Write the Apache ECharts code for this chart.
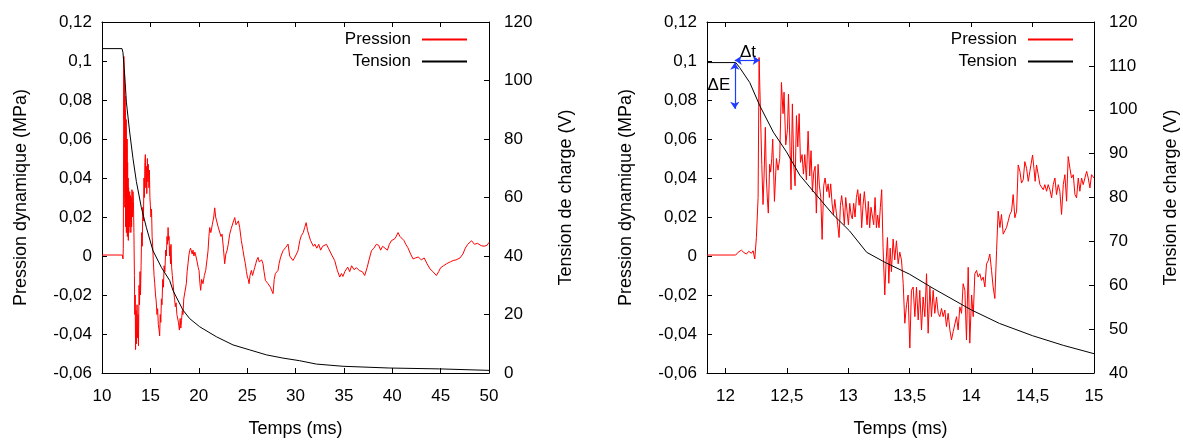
<!DOCTYPE html>
<html><head><meta charset="utf-8">
<script src="https://cdn.jsdelivr.net/npm/echarts@6/dist/echarts.min.js"></script>
<style>html,body{margin:0;padding:0;background:#fff;}#c{width:1183px;height:443px;}</style>
</head><body><div id="c"></div>
<script>
// ---------- DATA ----------
const seriesNames = ['Pression', 'Tension'];
const xTitle = 'Temps (ms)';
const yLeftTitle = 'Pression dynamique (MPa)';
const yRightTitle = 'Tension de charge (V)';

// Left panel : time (ms) vs pressure (MPa)
const pressionGauche = [
[10,0.0005],[12.1,0.0005],[12.17,-0.0015],[12.2,0.004],[12.26,0.1023],[12.28,0.07],[12.3,0.095],[12.32,0.04],[12.34,0.088],[12.36,0.025],[12.38,0.082],[12.4,0.03],[12.42,0.075],[12.44,0.015],[12.46,0.065],[12.48,0.028],[12.5,0.07],[12.52,0.012],[12.55,0.055],[12.57,0.02],[12.6,0.06],[12.62,0.01],[12.65,0.048],[12.67,0.018],[12.7,0.04],[12.72,0.008],[12.75,0.035],[12.78,0.012],[12.8,0.03],[12.83,0.015],[12.86,0.033],[12.9,0.018],[12.94,0.031],[12.98,0.012],[13.02,0.03],[13.06,0.015],[13.1,0.034],[13.15,0.02],[13.2,0.033],[13.25,0.028],[13.3,0.012],[13.35,-0.01],[13.39,-0.03],[13.43,-0.02],[13.47,-0.048],[13.52,-0.028],[13.57,-0.045],[13.62,-0.025],[13.67,-0.042],[13.72,-0.03],[13.77,-0.046],[13.83,-0.015],[13.88,-0.025],[13.93,-0.008],[13.98,-0.02],[14.04,-0.005],[14.1,0.012],[14.16,0.005],[14.22,0.025],[14.28,0.018],[14.34,0.04],[14.38,0.03],[14.43,0.048],[14.48,0.052],[14.53,0.035],[14.58,0.046],[14.63,0.032],[14.69,0.05],[14.74,0.038],[14.79,0.047],[14.85,0.035],[14.9,0.044],[14.95,0.03],[15.0,0.026],[15.06,0.02],[15.12,0.024],[15.18,0.01],[15.24,0.005],[15.3,-0.002],[15.38,-0.01],[15.45,-0.014],[15.53,-0.02],[15.6,-0.023],[15.68,-0.03],[15.75,-0.027],[15.82,-0.035],[15.9,-0.038],[15.96,-0.041],[16.02,-0.03],[16.08,-0.034],[16.14,-0.022],[16.2,-0.025],[16.28,-0.012],[16.35,-0.016],[16.42,-0.005],[16.5,-0.008],[16.58,0.003],[16.65,0.0],[16.72,0.01],[16.78,0.006],[16.83,0.0146],[16.88,0.008],[16.93,0.01],[16.98,0.0],[17.03,0.005],[17.08,-0.004],[17.13,0.006],[17.2,-0.006],[17.27,-0.01],[17.34,-0.014],[17.41,-0.018],[17.5,-0.022],[17.58,-0.026],[17.66,-0.024],[17.74,-0.03],[17.82,-0.029],[17.9,-0.034],[18.0,-0.038],[18.08,-0.032],[18.15,-0.037],[18.22,-0.033],[18.3,-0.028],[18.37,-0.03],[18.45,-0.022],[18.55,-0.019],[18.63,-0.02],[18.72,-0.014],[18.8,-0.008],[18.89,-0.004],[18.97,0.0],[19.06,0.0027],[19.15,0.004],[19.24,0.0044],[19.32,0.001],[19.41,0.003],[19.5,0.0],[19.6,0.002],[19.75,-0.001],[19.85,0.0],[19.95,-0.006],[20.03,-0.0074],[20.12,-0.014],[20.2,-0.0176],[20.3,-0.012],[20.44,-0.0142],[20.58,-0.01],[20.72,-0.0074],[20.85,-0.002],[20.96,0.0027],[21.05,0.01],[21.13,0.0146],[21.25,0.012],[21.41,0.0163],[21.55,0.02],[21.65,0.0247],[21.75,0.02],[21.89,0.0197],[22.0,0.015],[22.17,0.0146],[22.3,0.01],[22.41,0.0112],[22.55,0.004],[22.68,-0.004],[22.8,0.001],[22.92,0.0027],[23.05,0.006],[23.2,0.0112],[23.35,0.014],[23.47,0.0146],[23.6,0.018],[23.72,0.0197],[23.85,0.016],[23.99,0.0163],[24.1,0.018],[24.23,0.0146],[24.4,0.008],[24.58,0.0027],[24.7,-0.001],[24.82,-0.004],[24.93,-0.008],[25.03,-0.0108],[25.12,-0.012],[25.2,-0.0142],[25.3,-0.01],[25.44,-0.0074],[25.56,-0.01],[25.68,-0.0108],[25.78,-0.006],[25.89,-0.004],[26.0,-0.002],[26.13,-0.0007],[26.25,-0.003],[26.37,-0.0035],[26.5,-0.002],[26.64,-0.004],[26.75,-0.008],[26.89,-0.0125],[27.0,-0.013],[27.16,-0.0142],[27.28,-0.015],[27.4,-0.016],[27.55,-0.017],[27.68,-0.0193],[27.8,-0.012],[27.92,-0.009],[28.05,-0.008],[28.19,-0.0074],[28.3,-0.004],[28.44,-0.001],[28.58,0.001],[28.71,0.0027],[28.85,0.003],[28.99,0.0044],[29.1,0.005],[29.23,0.0061],[29.4,0.0],[29.74,-0.0023],[30.0,0.0],[30.26,0.0027],[30.45,0.008],[30.6,0.0104],[30.8,0.012],[30.95,0.0146],[31.1,0.0171],[31.25,0.013],[31.4,0.012],[31.55,0.008],[31.7,0.009],[31.85,0.005],[32.0,0.0061],[32.2,0.004],[32.4,0.006],[32.6,0.003],[32.8,0.005],[33.0,0.006],[33.2,0.006],[33.4,0.004],[33.6,0.003],[33.8,0.0],[34.05,-0.0023],[34.3,-0.007],[34.57,-0.0108],[34.75,-0.009],[34.9,-0.0105],[35.1,-0.008],[35.4,-0.0057],[35.6,-0.008],[35.8,-0.005],[36.05,-0.007],[36.3,-0.006],[36.6,-0.0075],[36.9,-0.008],[37.15,-0.01],[37.4,-0.006],[37.6,-0.002],[37.85,0.0027],[38.1,0.004],[38.36,0.006],[38.6,0.0055],[38.8,0.003],[39.0,0.005],[39.2,0.004],[39.5,0.003],[39.7,0.006],[39.9,0.0078],[40.1,0.007],[40.3,0.009],[40.6,0.012],[40.8,0.01],[41.0,0.0105],[41.2,0.008],[41.4,0.006],[41.6,0.0044],[41.9,0.001],[42.15,-0.0015],[42.4,-0.001],[42.7,-0.0005],[43.0,-0.002],[43.3,-0.001],[43.6,-0.004],[43.9,-0.0066],[44.2,-0.008],[44.56,-0.01],[44.8,-0.008],[45.0,-0.006],[45.3,-0.005],[45.6,-0.004],[46.0,-0.003],[46.3,-0.0023],[46.6,-0.002],[47.0,-0.001],[47.3,0.001],[47.55,0.004],[47.8,0.006],[48.0,0.007],[48.2,0.0078],[48.5,0.006],[48.8,0.0065],[49.2,0.0053],[49.5,0.005],[49.8,0.0055],[50,0.007]
];
// Left panel : time (ms) vs charging voltage (V)
const tensionGauche = [
[10,110.9],[12.07,110.9],[12.17,109.5],[12.35,101.6],[12.52,92.6],[12.86,82.4],[13.2,73.4],[13.55,65.5],[14.07,56.5],[14.59,49.7],[15.27,41.8],[16.14,36.1],[17.0,31.6],[17.34,28.2],[18.37,21.5],[19.06,18.6],[20.1,15.8],[21.82,12.4],[23.54,9.6],[25.27,7.9],[26.99,6.2],[28.7,5.1],[30.43,4.2],[32.16,3.05],[34.9,2.3],[39.7,1.7],[44.9,1.4],[50,0.9]
];
// Right panel (zoom) : time (ms) vs pressure (MPa)
const pressionDroite = [
[11.85,0.0005],[12.084,0.0005],[12.103,0.0019],[12.13,0.003],[12.15,0.0018],[12.171,0.001],[12.19,0.0024],[12.211,0.0014],[12.225,0.0027],[12.239,-0.0015],[12.252,0.0095],[12.266,0.03],[12.274,0.1018],[12.285,0.1018],[12.296,0.047],[12.306,0.0264],[12.314,0.04],[12.325,0.066],[12.333,0.04],[12.341,0.0298],[12.349,0.022],[12.36,0.047],[12.368,0.043],[12.377,0.05],[12.385,0.06],[12.399,0.028],[12.415,0.05],[12.428,0.044],[12.442,0.05],[12.456,0.089],[12.469,0.073],[12.477,0.084],[12.491,0.057],[12.505,0.065],[12.513,0.083],[12.524,0.06],[12.534,0.034],[12.545,0.078],[12.556,0.047],[12.567,0.036],[12.578,0.072],[12.589,0.056],[12.6,0.073],[12.611,0.048],[12.624,0.052],[12.635,0.042],[12.646,0.052],[12.659,0.039],[12.673,0.064],[12.686,0.041],[12.697,0.054],[12.708,0.033],[12.719,0.043],[12.73,0.046],[12.74,0.022],[12.754,0.047],[12.765,0.036],[12.776,0.03],[12.787,0.0085],[12.8,0.036],[12.811,0.04],[12.825,0.033],[12.836,0.037],[12.846,0.03],[12.857,0.037],[12.868,0.027],[12.879,0.021],[12.89,0.029],[12.903,0.022],[12.914,0.016],[12.925,0.0095],[12.936,0.026],[12.946,0.031],[12.957,0.025],[12.968,0.016],[12.979,0.03],[12.99,0.023],[13.001,0.016],[13.012,0.027],[13.023,0.021],[13.033,0.019],[13.044,0.027],[13.055,0.02],[13.066,0.03],[13.077,0.034],[13.088,0.026],[13.098,0.032],[13.109,0.0145],[13.12,0.026],[13.131,0.033],[13.142,0.032],[13.153,0.016],[13.163,0.028],[13.174,0.0145],[13.185,0.025],[13.196,0.026],[13.207,0.016],[13.218,0.03],[13.229,0.0145],[13.239,0.021],[13.25,0.0145],[13.261,0.025],[13.272,0.034],[13.283,0.0045],[13.297,-0.02],[13.308,-0.0025],[13.319,0.0095],[13.33,-0.014],[13.341,0.004],[13.351,-0.008],[13.365,0.0087],[13.378,-0.002],[13.392,0.0078],[13.406,-0.004],[13.419,0.002],[13.433,-0.002],[13.447,-0.014],[13.46,-0.0345],[13.474,-0.025],[13.487,-0.02],[13.501,-0.0472],[13.514,-0.0176],[13.528,-0.0159],[13.542,-0.0311],[13.555,-0.0159],[13.569,-0.0328],[13.582,-0.0176],[13.596,-0.0379],[13.609,-0.021],[13.623,-0.0311],[13.637,-0.0091],[13.65,-0.0396],[13.664,-0.0159],[13.677,-0.0311],[13.691,-0.0176],[13.704,-0.0294],[13.718,-0.021],[13.732,-0.0294],[13.745,-0.0311],[13.759,-0.0269],[13.772,-0.0311],[13.786,-0.0277],[13.799,-0.0362],[13.813,-0.0294],[13.827,-0.0379],[13.84,-0.043],[13.854,-0.0387],[13.867,-0.0396],[13.881,-0.0311],[13.894,-0.0379],[13.908,-0.0261],[13.922,-0.0294],[13.935,-0.0142],[13.949,-0.0176],[13.962,-0.043],[13.976,-0.0058],[13.989,-0.0447],[14.004,-0.02],[14.017,-0.0311],[14.03,-0.0091],[14.044,-0.0074],[14.057,-0.0108],[14.071,-0.0091],[14.084,-0.0125],[14.098,-0.0108],[14.112,-0.0159],[14.125,-0.0041],[14.139,-0.0024],[14.152,0.001],[14.166,-0.0074],[14.179,-0.0159],[14.193,-0.0218],[14.207,0.0027],[14.22,0.023],[14.234,0.0146],[14.247,0.0213],[14.261,0.0112],[14.274,0.0129],[14.288,0.0146],[14.302,0.018],[14.315,0.0213],[14.329,0.023],[14.342,0.0315],[14.356,0.0196],[14.37,0.023],[14.383,0.0467],[14.397,0.0434],[14.41,0.0374],[14.424,0.0391],[14.437,0.0484],[14.451,0.045],[14.465,0.0383],[14.478,0.0434],[14.5,0.0518],[14.511,0.045],[14.521,0.0383],[14.532,0.0467],[14.546,0.0417],[14.56,0.0366],[14.573,0.0357],[14.587,0.034],[14.6,0.0366],[14.614,0.0332],[14.627,0.0366],[14.641,0.034],[14.655,0.0298],[14.668,0.0366],[14.682,0.04],[14.695,0.0315],[14.709,0.0366],[14.722,0.0332],[14.736,0.0213],[14.75,0.0366],[14.763,0.0417],[14.777,0.0281],[14.79,0.051],[14.804,0.045],[14.817,0.04],[14.831,0.0417],[14.845,0.0315],[14.858,0.0298],[14.872,0.04],[14.885,0.0332],[14.899,0.04],[14.912,0.0366],[14.926,0.0366],[14.94,0.0434],[14.953,0.04],[14.967,0.0349],[14.98,0.0417],[15.0,0.04]
];
// Right panel (zoom) : time (ms) vs charging voltage (V)
const tensionDroite = [
[11.85,110.75],[12.084,110.75],[12.116,109.6],[12.198,106.2],[12.28,100.9],[12.39,94.9],[12.497,90.4],[12.605,85.1],[12.74,80.6],[12.876,76.1],[13.01,72.4],[13.15,67.5],[13.3,65.2],[13.5,62.5],[13.69,59.3],[14.0,54.4],[14.23,51.3],[14.5,48.5],[14.75,46.3],[15.0,44.4]
];
// Annotations (time ms, voltage V)
const deltaTArrow = [[12.076,111.26],[12.279,111.26]];
const deltaEArrow = [[12.076,110.74],[12.076,100.2]];
const annotationLabels = [['\u0394t',12.184,113.18],['\u0394E',11.947,105.67]];

// Axis ranges
const leftX = {min:10, max:50, interval:5};
const rightX = {min:11.85, max:15, splitNumber:6};
const pressionAxis = {min:-0.06, max:0.12, interval:0.02};
const tensionAxisLeft = {min:0, max:120, interval:20};
const tensionAxisRight = {min:40, max:120, interval:10};

// ---------- CHART ----------
const FONT = "'Liberation Sans', Arial, sans-serif";
const fr = v => { const r = Math.round(v*10000)/10000; return (r === 0 ? 0 : r).toString().replace('.', ','); };
const halfFmt = v => Math.abs(v*2 - Math.round(v*2)) < 1e-6 ? fr(v) : '';
const lab = {fontSize:17, color:'#000', fontFamily:FONT};
const nameStyle = {fontSize:18, color:'#000', fontFamily:FONT};
const line = {show:true, onZero:false, lineStyle:{color:'#000', width:1}};
const tick = {show:true, inside:true, length:5, lineStyle:{color:'#000', width:1}};

function xAx(grid, r, top, fmt) {
  const a = Object.assign({type:'value', gridIndex:grid, position: top ? 'top' : 'bottom',
    axisLine:line, axisTick:tick, splitLine:{show:false}}, r);
  if (top) { a.axisLabel = {show:false}; }
  else {
    a.axisLabel = Object.assign({margin:15, formatter:fmt, showMinLabel: fmt === halfFmt ? false : true}, lab);
    a.name = xTitle; a.nameLocation = 'middle'; a.nameGap = 47; a.nameTextStyle = nameStyle;
  }
  return a;
}
function yAx(grid, r, right, name, gap) {
  return Object.assign({type:'value', gridIndex:grid, position: right ? 'right' : 'left',
    axisLine:line, axisTick:tick, splitLine:{show:false},
    axisLabel:Object.assign({margin: right ? 15 : 10, formatter:fr, padding: right ? [3,0,0,0] : [4,0,0,0]}, lab),
    name:name, nameLocation:'middle', nameRotate:90, nameGap:gap, nameTextStyle:nameStyle}, r);
}
const legendBase = {data:seriesNames, orient:'vertical', align:'right', top:31, itemWidth:45, itemHeight:14,
  itemGap:5, padding:0, selectedMode:false,
  itemStyle:{opacity:0},
  textStyle:{fontSize:17, color:'#000', fontFamily:FONT, padding:[0,6,0,0]}};

const option = {
  animation:false,
  backgroundColor:'#fff',
  grid:[{left:102, top:22, width:387, height:355}, {left:707, top:22, width:387, height:355}],
  legend:[Object.assign({right:715}, legendBase), Object.assign({right:109}, legendBase)],
  xAxis:[xAx(0, leftX, false, fr), xAx(0, leftX, true), xAx(1, rightX, false, halfFmt), xAx(1, rightX, true)],
  yAxis:[yAx(0, pressionAxis, false, yLeftTitle, 72), yAx(0, tensionAxisLeft, true, yRightTitle, 68),
         yAx(1, pressionAxis, false, yLeftTitle, 72), yAx(1, tensionAxisRight, true, yRightTitle, 68)],
  series:[
    {name:'Pression', type:'line', xAxisIndex:0, yAxisIndex:0, data:pressionGauche, symbol:'none', color:'#ff0000', lineStyle:{width:1, color:'#ff0000'}},
    {name:'Tension', type:'line', xAxisIndex:0, yAxisIndex:1, data:tensionGauche, symbol:'none', color:'#000', lineStyle:{width:1, color:'#000'}},
    {name:'Pression', type:'line', xAxisIndex:2, yAxisIndex:2, data:pressionDroite, symbol:'none', color:'#ff0000', lineStyle:{width:1, color:'#ff0000'}},
    {name:'Tension', type:'line', xAxisIndex:2, yAxisIndex:3, data:tensionDroite, symbol:'none', color:'#000', lineStyle:{width:1, color:'#000'},
      markLine:{silent:true, symbol:['arrow','arrow'], symbolSize:7, animation:false,
        lineStyle:{color:'#1e3cff', width:1.2, type:'solid'}, label:{show:false},
        data:[[{coord:deltaTArrow[0]},{coord:deltaTArrow[1]}],[{coord:deltaEArrow[0]},{coord:deltaEArrow[1]}]]},
      markPoint:{silent:true, symbol:'circle', symbolSize:0, animation:false,
        label:{show:true, position:'inside', formatter:p => p.name, fontSize:17, color:'#000', fontFamily:FONT},
        data:annotationLabels.map(a => ({name:a[0], coord:[a[1], a[2]]}))}
    }
  ]
};
const chart = echarts.init(document.getElementById('c'), null, {renderer:'canvas'});
chart.setOption(option);
</script></body></html>
